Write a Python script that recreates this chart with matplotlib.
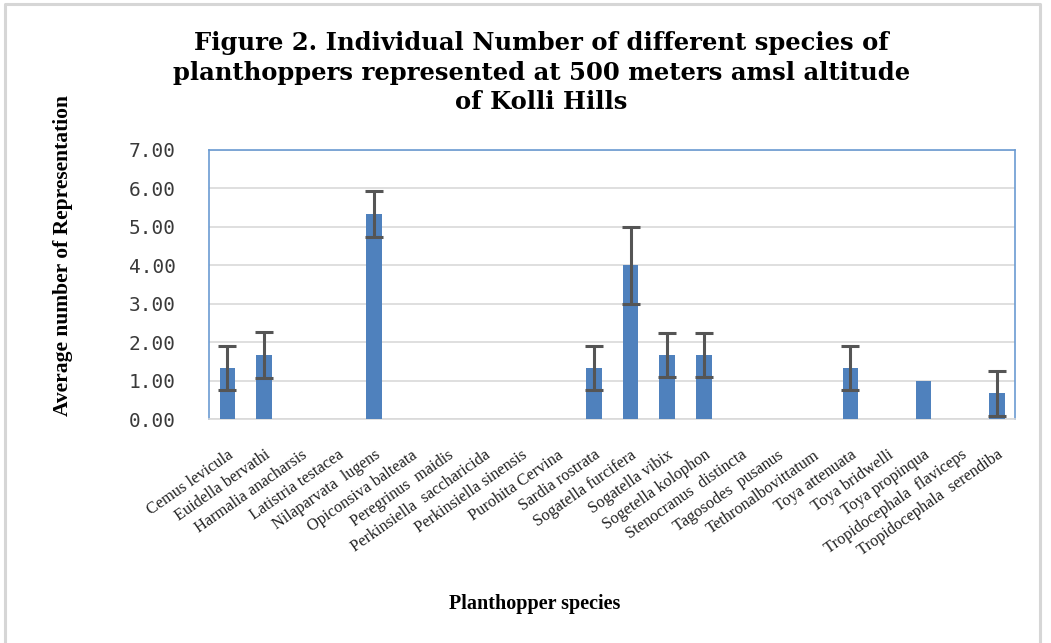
import matplotlib
matplotlib.use("Agg")
import matplotlib.pyplot as plt
from matplotlib.lines import Line2D

species = ["Cemus levicula", "Euidella bervathi", "Harmalia anacharsis", "Latistria testacea",
           "Nilaparvata  lugens", "Opiconsiva balteata", "Peregrinus  maidis",
           "Perkinsiella  saccharicida", "Perkinsiella sinensis", "Purohita Cervina",
           "Sardia rostrata", "Sogatella furcifera", "Sogatella vibix", "Sogetella kolophon",
           "Stenocranus  distincta", "Tagosodes  pusanus", "Tethronalbovittatum",
           "Toya attenuata", "Toya bridwelli", "Toya propinqua",
           "Tropidocephala  flaviceps", "Tropidocephala  serendiba"]
values = [1.33, 1.67, 0, 0, 5.33, 0, 0, 0, 0, 0, 1.33, 4.0, 1.67, 1.67, 0, 0, 0, 1.33, 0, 1.0, 0, 0.67]
errors = [0.58, 0.6, 0, 0, 0.6, 0, 0, 0, 0, 0, 0.58, 1.0, 0.58, 0.58, 0, 0, 0, 0.58, 0, 0, 0, 0.58]
yticks = [0, 1, 2, 3, 4, 5, 6, 7]

fig = plt.figure(figsize=(10.51, 6.43), dpi=100)
# outer chart frame (left, top, right)
fig.add_artist(Line2D([0.0045, 0.0045, 0.9895, 0.9895], [0.0, 0.9935, 0.9935, 0.0],
                      transform=fig.transFigure, color="#D6D6D6", linewidth=2.2))
ax = fig.add_axes([0.199, 0.348, 0.767, 0.419])

x = list(range(len(species)))
ax.bar(x, values, width=0.42, color="#4F81BD", zorder=3)
ex = [i for i in x if errors[i] > 0]
ax.errorbar(ex, [values[i] for i in ex], yerr=[errors[i] for i in ex], fmt="none",
            ecolor="#555555", elinewidth=2.2, capsize=6.5, capthick=2.2, zorder=4)

ax.set_xlim(-0.5, len(species) - 0.5)
ax.set_ylim(0, 7)
ax.set_yticks(yticks)
ax.set_yticklabels([f"{v:.2f}" for v in yticks], fontsize=14, color="#3A3A3A",
                   family="DejaVu Sans Mono")
ax.tick_params(axis="y", length=0, pad=24)
ax.tick_params(axis="x", length=0, pad=20)
ax.grid(axis="y", color="#D9D9D9", linewidth=1.2, zorder=0)
ax.set_axisbelow(True)
for s in ["left", "top", "right"]:
    ax.spines[s].set_color("#6B9BD2")
    ax.spines[s].set_linewidth(1.2)
ax.spines["bottom"].set_color("#D9D9D9")
ax.spines["bottom"].set_linewidth(1.2)

ax.set_xticks(x)
ax.set_xticklabels(species, rotation=35, ha="right", va="top", rotation_mode="anchor",
                   fontsize=11.8, family="Liberation Serif", color="#222222")

fig.text(0.515, 0.952, "Figure 2. Individual Number of different species of\n"
         "planthoppers represented at 500 meters amsl altitude\nof Kolli Hills",
         ha="center", va="top", fontsize=17.5, fontweight="bold", family="DejaVu Serif",
         linespacing=1.3)
fig.text(0.06, 0.603, "Average number of Representation", rotation=90, ha="center", va="center",
         fontsize=15.5, fontweight="bold", family="Liberation Serif")
fig.text(0.509, 0.06, "Planthopper species", ha="center", va="center",
         fontsize=14.5, fontweight="bold", family="Liberation Serif")

fig.savefig("out.png", dpi=100)
